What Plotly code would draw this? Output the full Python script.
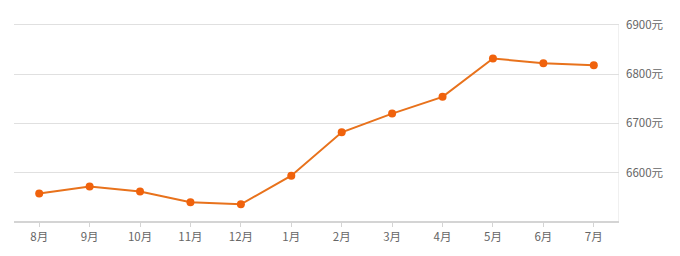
import plotly.graph_objects as go

months = ["8月", "9月", "10月", "11月", "12月", "1月", "2月", "3月", "4月", "5月", "6月", "7月"]
prices = [6558, 6572, 6562, 6540, 6536, 6594, 6682, 6720, 6754, 6832, 6822, 6818]
y_ticks = [6600, 6700, 6800, 6900]
y_labels = [f"{v}元" for v in y_ticks]

fig = go.Figure()
fig.add_trace(go.Scatter(
    x=months, y=prices, mode="lines+markers",
    line=dict(color="#e8721c", width=2),
    marker=dict(color="#f0620c", size=8),
    hoverinfo="x+y",
))

fig.update_layout(
    width=680, height=256,
    margin=dict(l=14, r=61, t=19, b=32),
    paper_bgcolor="white", plot_bgcolor="white",
    showlegend=False,
    font=dict(family="Noto Sans CJK SC, sans-serif", size=12, color="#666"),
    xaxis=dict(
        type="category", range=[-0.5, 11.5],
        showgrid=False, showline=True, linecolor="#d4d4d4", linewidth=2,
        ticks="outside", ticklen=4, tickcolor="#d4d4d4",
        tickfont=dict(size=11.5, color="#666"),
        fixedrange=True,
    ),
    yaxis=dict(
        side="right", range=[6502, 6912],
        tickmode="array", tickvals=y_ticks, ticktext=y_labels,
        showgrid=True, gridcolor="#e0e0e0", gridwidth=1,
        showline=False,
        zeroline=False, ticks="", ticklabelstandoff=6,
        tickfont=dict(size=11.5, color="#666"),
        fixedrange=True,
    ),
    shapes=[dict(
        type="line", xref="x", yref="y",
        x0=11.5, x1=11.5, y0=6502, y1=6900,
        line=dict(color="#e0e0e0", width=1),
    )],
)

fig.write_html("out.html")
